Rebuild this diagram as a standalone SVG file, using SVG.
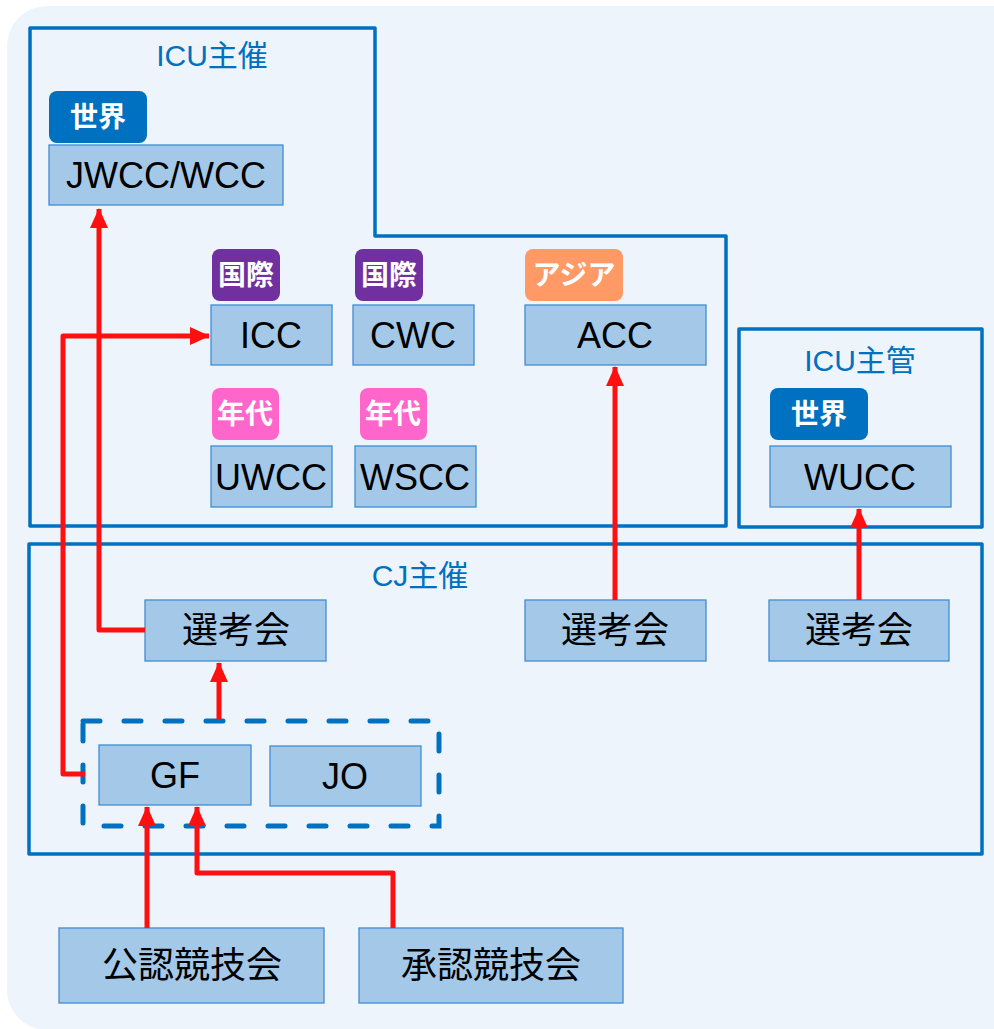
<svg xmlns="http://www.w3.org/2000/svg" width="994" height="1029" viewBox="0 0 994 1029">
<defs>
<style>
text{font-family:"Liberation Sans","Noto Sans CJK JP",sans-serif;text-anchor:middle;dominant-baseline:central}
.frame{fill:none;stroke:#0070C0;stroke-width:3.5;stroke-linejoin:round}
.title{fill:#0070C0;font-size:30px}
.box{fill:#A4C8E8;stroke:#3F8DD2;stroke-width:1.3}
.lbl{fill:#000;font-size:36px}
.jp{fill:#000;font-size:36px}
.badge{stroke:none}
.bt{fill:#fff;font-size:28px;font-weight:bold}
.conn{fill:none;stroke:#FF1010;stroke-width:5;stroke-linejoin:round}
</style>
<marker id="ah" markerUnits="userSpaceOnUse" markerWidth="20" markerHeight="20" viewBox="0 0 20 20" refX="19" refY="10" orient="auto">
<path d="M0,1 L20,10 L0,19 Z" fill="#FF1010"/>
</marker>
</defs>
<rect x="7" y="6" width="1040" height="1024" rx="40" fill="#EEF4FB"/>

<g id="icu-host">
<path class="frame" d="M30,28 H375 V236 H726 V526 H30 Z"/>
<text class="title" x="212" y="55">ICU主催</text>
</g>
<g id="icu-manage">
<rect class="frame" x="739" y="329" width="243" height="198"/>
<text class="title" x="860" y="360">ICU主管</text>
</g>
<g id="cj-host">
<rect class="frame" x="29" y="544" width="953" height="310"/>
<text class="title" x="420" y="575">CJ主催</text>
</g>

<g id="jwcc">
<rect class="badge" x="49" y="91" width="98" height="52" rx="8" fill="#0070C0"/>
<text class="bt" x="98" y="117">世界</text>
<rect class="box" x="49" y="145" width="234" height="60"/>
<text class="lbl" x="166" y="175">JWCC/WCC</text>
</g>
<g id="icc">
<rect class="badge" x="212" y="249" width="68" height="52" rx="8" fill="#7030A0"/>
<text class="bt" x="246" y="275">国際</text>
<rect class="box" x="211" y="305" width="121" height="60"/>
<text class="lbl" x="271" y="335">ICC</text>
</g>
<g id="cwc">
<rect class="badge" x="355" y="249" width="68" height="52" rx="8" fill="#7030A0"/>
<text class="bt" x="389" y="275">国際</text>
<rect class="box" x="353" y="305" width="121" height="60"/>
<text class="lbl" x="413" y="335">CWC</text>
</g>
<g id="uwcc">
<rect class="badge" x="212" y="388" width="67" height="52" rx="8" fill="#FF66CC"/>
<text class="bt" x="245" y="414">年代</text>
<rect class="box" x="211" y="446" width="121" height="61"/>
<text class="lbl" x="271" y="477">UWCC</text>
</g>
<g id="wscc">
<rect class="badge" x="360" y="388" width="67" height="52" rx="8" fill="#FF66CC"/>
<text class="bt" x="393" y="414">年代</text>
<rect class="box" x="355" y="446" width="121" height="61"/>
<text class="lbl" x="415" y="477">WSCC</text>
</g>
<g id="acc">
<rect class="badge" x="525" y="249" width="98" height="52" rx="8" fill="#FF9966"/>
<text class="bt" x="574" y="275">アジア</text>
<rect class="box" x="525" y="305" width="181" height="60"/>
<text class="lbl" x="615" y="335">ACC</text>
</g>
<g id="wucc">
<rect class="badge" x="770" y="388" width="98" height="52" rx="8" fill="#0070C0"/>
<text class="bt" x="819" y="414">世界</text>
<rect class="box" x="770" y="446" width="181" height="61"/>
<text class="lbl" x="860" y="477">WUCC</text>
</g>

<g id="selection1">
<rect class="box" x="145" y="600" width="181" height="61"/>
<text class="jp" x="236" y="630">選考会</text>
</g>
<g id="selection2">
<rect class="box" x="525" y="600" width="181" height="61"/>
<text class="jp" x="615" y="630">選考会</text>
</g>
<g id="selection3">
<rect class="box" x="769" y="600" width="180" height="61"/>
<text class="jp" x="859" y="630">選考会</text>
</g>
<g id="gf-jo-group">
<rect x="83" y="721" width="356" height="105" fill="none" stroke="#0070C0" stroke-width="5" stroke-linecap="round" stroke-dasharray="17 24"/>
</g>
<g id="gf">
<rect class="box" x="99" y="745" width="152" height="60"/>
<text class="lbl" x="175" y="775">GF</text>
</g>
<g id="jo">
<rect class="box" x="270" y="746" width="151" height="60"/>
<text class="lbl" x="345" y="776">JO</text>
</g>
<g id="official">
<rect class="box" x="59" y="928" width="265" height="75"/>
<text class="jp" x="192" y="965">公認競技会</text>
</g>
<g id="approved">
<rect class="box" x="359" y="928" width="264" height="75"/>
<text class="jp" x="491" y="965">承認競技会</text>
</g>

<g id="connectors">
<path class="conn" d="M145,630 H99 V209" marker-end="url(#ah)"/>
<path class="conn" d="M85,774 H63 V336 H209" marker-end="url(#ah)"/>
<path class="conn" d="M219,720 V663" marker-end="url(#ah)"/>
<path class="conn" d="M615,600 V367" marker-end="url(#ah)"/>
<path class="conn" d="M859,600 V509" marker-end="url(#ah)"/>
<path class="conn" d="M147,928 V807" marker-end="url(#ah)"/>
<path class="conn" d="M393,928 V873 H197 V807" marker-end="url(#ah)"/>
</g>
</svg>
